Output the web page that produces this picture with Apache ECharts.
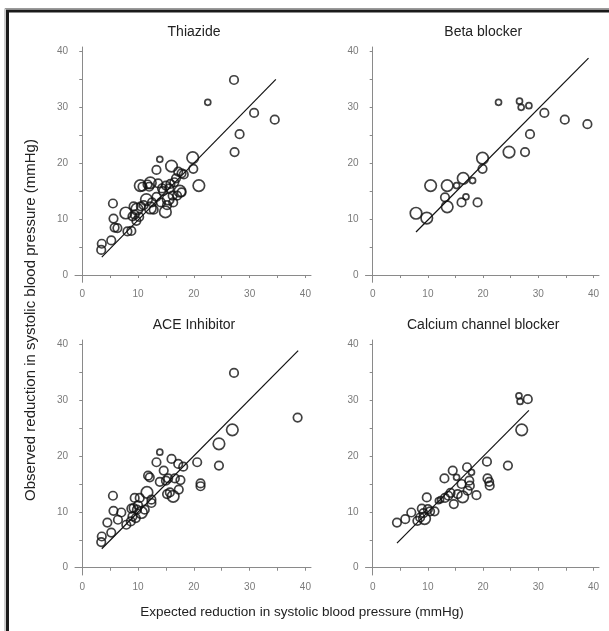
<!DOCTYPE html>
<html>
<head>
<meta charset="utf-8">
<script src="https://cdn.jsdelivr.net/npm/echarts@6/dist/echarts.min.js"></script>
<style>
html,body{margin:0;padding:0;background:#fff;}
#c{width:609px;height:631px;}
</style>
</head>
<body>
<div id="c"></div>
<script>
// ---- data ----
var panelTitles = ["Thiazide", "Beta blocker", "ACE Inhibitor", "Calcium channel blocker"];
var tickLabels = [0, 10, 20, 30, 40];
var tickMarks = [0, 5, 10, 15, 20, 25, 30, 35, 40];
var xTitle = "Expected reduction in systolic blood pressure (mmHg)";
var yTitle = "Observed reduction in systolic blood pressure (mmHg)";

// [expected, observed, weight class (1 small, 2 medium, 3 large)]
var thiazide = [
  [3.5,5.6,2],[3.4,4.5,2],[5.2,6.2,2],[5.5,12.8,2],[5.6,10.1,2],[5.8,8.5,2],[6.3,8.4,2],
  [7.8,11.1,3],[8.1,7.8,2],[8.8,7.9,2],[9.2,12.3,2],[9.4,10.8,2],[9.7,9.7,2],[9.8,11.8,3],
  [10.2,10.4,2],[10.5,12.3,2],[10.4,16.0,3],[11.5,13.5,3],[11.7,16.2,2],[12.2,16.5,3],
  [12.2,12.0,3],[12.8,11.7,2],[13.3,18.8,2],[13.9,20.7,1],[13.3,14.0,2],[13.6,16.4,2],
  [14.1,13.0,2],[14.5,15.0,2],[14.9,11.3,3],[15.0,16.0,2],[15.4,13.6,3],[15.6,15.5,2],
  [15.8,16.3,2],[16.0,19.5,3],[16.3,13.0,2],[16.5,16.6,2],[16.8,17.3,2],[17.2,18.5,2],
  [17.0,14.2,2],[17.5,15.0,3],[17.8,18.2,2],[18.2,18.0,2],[17.8,14.8,2],[19.8,21.0,3],
  [19.9,19.0,2],[20.9,16.0,3],[22.5,30.9,1],[27.2,34.9,2],[27.3,22.0,2],[28.2,25.2,2],
  [30.8,29.0,2],[34.5,27.8,2],[11.0,12.5,2],[12.5,13.0,2],[9.0,10.5,2],[10.8,15.8,2],
  [14.3,15.5,2],[16.2,14.2,2],[12.0,15.8,2],[15.2,12.5,2]
];
var betaBlocker = [
  [7.85,11.05,3],[9.8,10.2,3],[10.5,16.0,3],[13.1,13.9,2],[13.5,16.0,3],[13.5,12.2,3],
  [15.2,16.0,1],[16.1,13.0,2],[16.4,17.3,3],[16.9,14.0,1],[18.1,16.9,1],[19.0,13.0,2],
  [19.9,19.0,2],[19.9,20.9,3],[22.8,30.9,1],[24.7,22.0,3],[26.6,31.1,1],[26.9,30.0,1],
  [28.3,30.3,1],[27.6,22.0,2],[28.5,25.2,2],[31.1,29.0,2],[34.8,27.8,2],[38.9,27.0,2]
];
var aceInhibitor = [
  [3.5,5.6,2],[3.4,4.6,2],[4.5,8.1,2],[5.2,6.3,2],[5.5,12.9,2],[5.6,10.2,2],[6.4,8.6,2],
  [7.0,9.9,2],[7.9,7.7,2],[8.7,8.3,2],[9.0,9.2,2],[9.2,10.7,2],[9.4,12.5,2],[9.6,8.9,2],
  [9.8,10.4,2],[10.3,12.5,2],[10.6,9.9,3],[11.2,10.4,2],[11.6,13.5,3],[11.8,16.5,2],
  [12.1,16.2,2],[12.4,12.2,2],[12.4,11.6,2],[13.3,18.9,2],[13.9,20.7,1],[13.9,15.4,2],
  [14.6,17.4,2],[15.0,15.6,2],[15.4,16.0,2],[15.7,13.5,2],[16.0,19.5,2],[16.3,12.8,3],
  [16.6,16.0,2],[17.2,18.6,2],[17.3,14.0,2],[17.6,15.7,2],[18.1,18.1,2],[20.6,18.9,2],
  [21.2,15.1,2],[21.2,14.6,2],[24.5,22.2,3],[24.5,18.3,2],[26.9,24.7,3],[27.2,34.9,2],
  [38.6,26.9,2],[10.0,11.2,2],[8.8,10.6,2],[15.2,13.2,2]
];
var calciumBlocker = [
  [4.4,8.1,2],[5.9,8.7,2],[7.0,9.9,2],[8.1,8.4,2],[8.6,9.0,2],[8.9,10.6,2],[9.4,8.8,3],
  [9.2,9.8,2],[9.8,12.6,2],[10.0,10.5,2],[10.4,10.1,2],[11.2,10.1,2],[11.9,12.0,1],
  [12.3,12.2,1],[13.0,16.0,2],[13.1,12.5,2],[13.7,12.9,2],[14.1,13.4,2],[14.5,17.4,2],
  [14.7,11.4,2],[15.2,16.2,1],[15.4,13.2,2],[16.1,15.0,2],[16.3,12.7,3],[17.1,18.0,2],
  [17.2,13.8,2],[17.5,15.6,2],[17.6,14.7,2],[17.9,17.1,1],[18.8,13.0,2],[20.7,19.0,2],
  [20.8,16.0,2],[21.1,15.4,2],[21.2,14.7,2],[24.5,18.3,2],[26.5,30.8,1],[26.7,29.8,1],
  [28.1,30.2,2],[27.0,24.7,3]
];
// fitted line end points [[x0,y0],[x1,y1]]
var thiazideLine = [[3.5,3.2],[34.7,35.0]];
var betaLine = [[7.85,7.7],[39.1,38.8]];
var aceLine = [[3.5,3.4],[38.7,38.9]];
var calciumLine = [[4.4,4.4],[28.3,28.2]];

var panelPoints = [thiazide, betaBlocker, aceInhibitor, calciumBlocker];
var panelLines = [thiazideLine, betaLine, aceLine, calciumLine];

// ---- layout ----
var grids = [
  {left: 75, top: 47, width: 236, height: 235.3},
  {left: 365.5, top: 47, width: 233.5, height: 235.3},
  {left: 75, top: 340, width: 236, height: 235},
  {left: 365.5, top: 340, width: 233.5, height: 235}
];
var sizeOf = {1: 6, 2: 8.5, 3: 11.5};
var FONT = "Liberation Sans, Arial, sans-serif";

var chart = echarts.init(document.getElementById('c'), null, {renderer: 'canvas'});

var xAxes = [], yAxes = [], series = [], graphics = [];
grids.forEach(function (g, i) {
  var axisCommon = {
    type: 'value',
    gridIndex: i,
    splitLine: {show: false},
    axisLine: {show: true, lineStyle: {color: '#8a8a8a', width: 1}},
    axisTick: {show: true, length: 3, customValues: tickMarks, lineStyle: {color: '#8a8a8a'}},
    axisLabel: {customValues: tickLabels, color: '#7a7a7a', fontSize: 10, fontFamily: FONT, margin: 7}
  };
  xAxes.push(Object.assign({}, axisCommon, {min: -1.3, max: 41, position: 'bottom'}));
  yAxes.push(Object.assign({}, axisCommon, {min: -1.3, max: 40.8, position: 'left'}));
  series.push({
    type: 'scatter',
    xAxisIndex: i, yAxisIndex: i,
    data: panelPoints[i],
    symbol: 'circle',
    symbolSize: function (d) { return sizeOf[d[2]]; },
    itemStyle: {color: 'rgba(255,255,255,0)', borderColor: '#111', borderWidth: 1.7},
    silent: true,
    z: 3
  });
  series.push({
    type: 'line',
    xAxisIndex: i, yAxisIndex: i,
    data: panelLines[i],
    showSymbol: false,
    lineStyle: {color: '#111', width: 1.2},
    silent: true,
    z: 2
  });
  graphics.push({
    type: 'text',
    x: g.left + g.width / 2 + 1,
    y: g.top - 15,
    style: {text: panelTitles[i], fill: '#222', font: '14px ' + FONT, textAlign: 'center', textVerticalAlign: 'middle'}
  });
});

// axis titles
graphics.push({
  type: 'text', x: 302, y: 612,
  style: {text: xTitle, fill: '#222', font: '13.5px ' + FONT, textAlign: 'center', textVerticalAlign: 'middle'}
});
graphics.push({
  type: 'text', x: 31, y: 320, rotation: Math.PI / 2,
  style: {text: yTitle, fill: '#222', font: '15px ' + FONT, textAlign: 'center', textVerticalAlign: 'middle'}
});
// frame (top and left edges visible)
graphics.push({type: 'line', shape: {x1: 5, y1: 8.5, x2: 609, y2: 8.5}, style: {stroke: '#9a9a9a', lineWidth: 1}});
graphics.push({type: 'line', shape: {x1: 5, y1: 8.5, x2: 5, y2: 631}, style: {stroke: '#9a9a9a', lineWidth: 1}});
graphics.push({type: 'line', shape: {x1: 6, y1: 11, x2: 609, y2: 11}, style: {stroke: '#1a1a1a', lineWidth: 3}});
graphics.push({type: 'line', shape: {x1: 7.5, y1: 11, x2: 7.5, y2: 631}, style: {stroke: '#1a1a1a', lineWidth: 3}});

chart.setOption({
  backgroundColor: '#ffffff',
  animation: false,
  grid: grids,
  xAxis: xAxes,
  yAxis: yAxes,
  series: series,
  graphic: graphics
});
</script>
</body>
</html>
